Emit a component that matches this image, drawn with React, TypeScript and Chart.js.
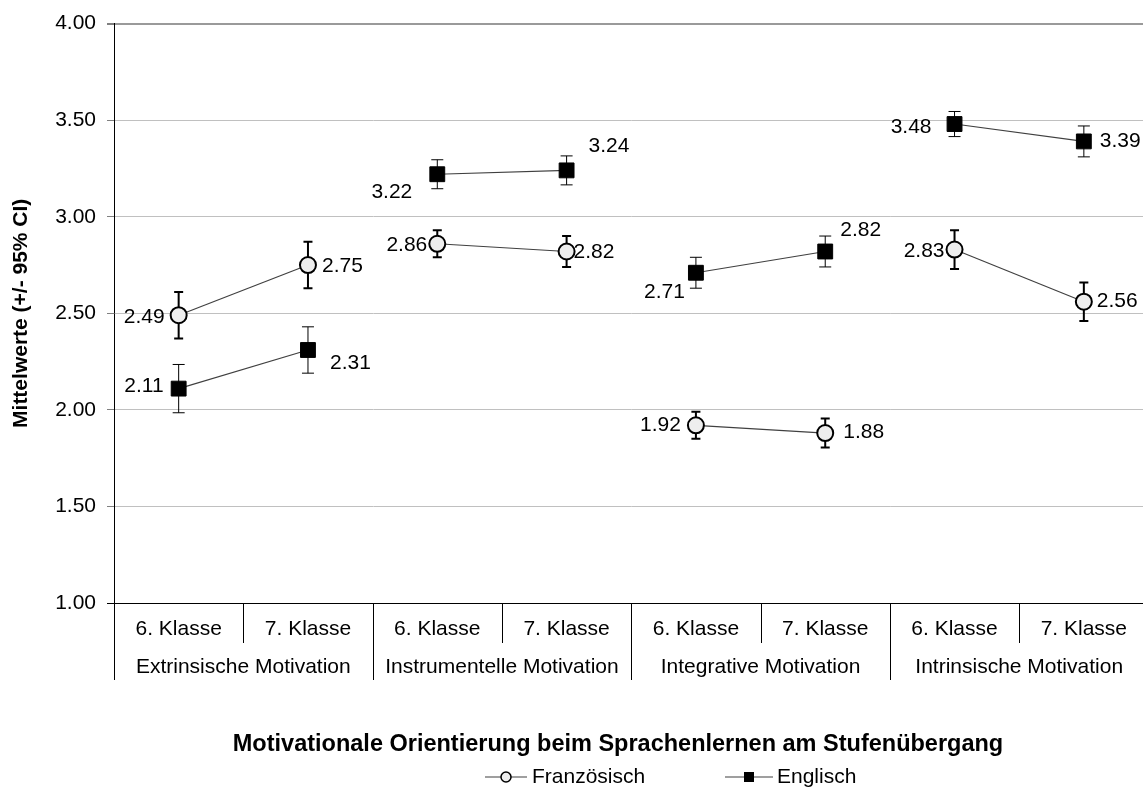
import React, { useEffect, useRef } from "react";
import { Chart, registerables } from "chart.js";

Chart.register(...registerables);

// ---------- data ----------
const classLabels = [
  "6. Klasse", "7. Klasse",
  "6. Klasse", "7. Klasse",
  "6. Klasse", "7. Klasse",
  "6. Klasse", "7. Klasse",
];
const groupLabels = [
  "Extrinsische Motivation",
  "Instrumentelle Motivation",
  "Integrative Motivation",
  "Intrinsische Motivation",
];
const franzoesisch = [2.49, 2.75, 2.86, 2.82, 1.92, 1.88, 2.83, 2.56];
const englisch = [2.11, 2.31, 3.22, 3.24, 2.71, 2.82, 3.48, 3.39];
// half-width of the 95% confidence interval
const franzoesischCI = [0.12, 0.12, 0.07, 0.08, 0.07, 0.075, 0.1, 0.1];
const englischCI = [0.125, 0.12, 0.075, 0.075, 0.08, 0.08, 0.065, 0.08];
const yMin = 1;
const yMax = 4;
const yStep = 0.5;

const seriesNames = ["Französisch", "Englisch"];
const yTitle = "Mittelwerte (+/- 95% CI)";
const xTitle = "Motivationale Orientierung beim Sprachenlernen am Stufenübergang";

// ---------- label placement (style, not data) ----------
const LABEL_PLACEMENT: Record<string, { dx: number; dy: number }[]> = {
  fr: [
    { dx: -14, dy: 2 }, { dx: 14, dy: 1 },
    { dx: -10, dy: 1 }, { dx: 7, dy: 1 },
    { dx: -15, dy: 0 }, { dx: 18, dy: -1 },
    { dx: -10, dy: 2 }, { dx: 13, dy: -1 },
  ],
  en: [
    { dx: -15, dy: -2 }, { dx: 22, dy: 13 },
    { dx: -25, dy: 18 }, { dx: 22, dy: -24 },
    { dx: -11, dy: 19 }, { dx: 15, dy: -21 },
    { dx: -23, dy: 3 }, { dx: 16, dy: 0 },
  ],
};

const FONT = "'Liberation Sans', Arial, sans-serif";
const FS = 21;
const FS_TITLE = 23.5;

const errorBarPlugin = {
  id: "errorBars",
  beforeDatasetsDraw(chart: any) {
    const { ctx } = chart;
    const y = chart.scales.y;
    const x = chart.scales.x;
    const sets = [
      { vals: franzoesisch, ci: franzoesischCI, lw: 2, cap: 9 },
      { vals: englisch, ci: englischCI, lw: 1, cap: 12 },
    ];
    ctx.save();
    ctx.strokeStyle = "#000";
    sets.forEach((s) => {
      ctx.lineWidth = s.lw;
      s.vals.forEach((v, i) => {
        const px = x.getPixelForValue(i);
        const top = y.getPixelForValue(v + s.ci[i]);
        const bot = y.getPixelForValue(v - s.ci[i]);
        ctx.beginPath();
        ctx.moveTo(px, top);
        ctx.lineTo(px, bot);
        ctx.moveTo(px - s.cap / 2, top);
        ctx.lineTo(px + s.cap / 2, top);
        ctx.moveTo(px - s.cap / 2, bot);
        ctx.lineTo(px + s.cap / 2, bot);
        ctx.stroke();
      });
    });
    ctx.restore();
  },
};

const decorPlugin = {
  id: "decor",
  afterDraw(chart: any) {
    const { ctx, chartArea } = chart;
    const x = chart.scales.x;
    const y = chart.scales.y;
    ctx.save();
    // data labels
    ctx.font = `${FS}px ${FONT}`;
    ctx.fillStyle = "#000";
    ctx.textBaseline = "middle";
    const lab = (vals: number[], place: { dx: number; dy: number }[]) => {
      vals.forEach((v, i) => {
        const px = x.getPixelForValue(i);
        const py = y.getPixelForValue(v);
        const p = place[i];
        ctx.textAlign = p.dx < 0 ? "right" : "left";
        ctx.fillText(v.toFixed(2), px + p.dx, py + p.dy);
      });
    };
    lab(franzoesisch, LABEL_PLACEMENT.fr);
    lab(englisch, LABEL_PLACEMENT.en);

    // category axis (two levels)
    const bottom = chartArea.bottom;
    const n = classLabels.length;
    const bounds: number[] = [chartArea.left];
    for (let i = 1; i < n; i++) {
      bounds.push((x.getPixelForValue(i - 1) + x.getPixelForValue(i)) / 2);
    }
    bounds.push(chartArea.right);
    ctx.strokeStyle = "#000";
    ctx.lineWidth = 1;
    bounds.forEach((b, i) => {
      const bx = Math.round(b) + 0.5;
      ctx.beginPath();
      ctx.moveTo(bx, bottom);
      ctx.lineTo(bx, i % 2 === 0 ? bottom + 77 : bottom + 40);
      ctx.stroke();
    });
    ctx.textAlign = "center";
    classLabels.forEach((l, i) => {
      ctx.fillText(l, x.getPixelForValue(i), bottom + 26);
    });
    groupLabels.forEach((g, gi) => {
      const cx = (x.getPixelForValue(gi * 2) + x.getPixelForValue(gi * 2 + 1)) / 2;
      ctx.fillText(g, cx, bottom + 64);
    });

    // x title
    ctx.font = `bold ${FS_TITLE}px ${FONT}`;
    ctx.fillText(xTitle, 618, 745);

    // legend
    ctx.font = `${FS}px ${FONT}`;
    ctx.textAlign = "left";
    const ly = 777;
    ctx.strokeStyle = "#404040";
    ctx.lineWidth = 1.2;
    ctx.beginPath();
    ctx.moveTo(485, ly);
    ctx.lineTo(527, ly);
    ctx.stroke();
    ctx.beginPath();
    ctx.arc(506, ly, 5, 0, Math.PI * 2);
    ctx.fillStyle = "#eeeeee";
    ctx.fill();
    ctx.strokeStyle = "#000";
    ctx.lineWidth = 1.5;
    ctx.stroke();
    ctx.fillStyle = "#000";
    ctx.fillText(seriesNames[0], 532, ly);

    ctx.strokeStyle = "#404040";
    ctx.lineWidth = 1.2;
    ctx.beginPath();
    ctx.moveTo(725, ly);
    ctx.lineTo(773, ly);
    ctx.stroke();
    ctx.fillStyle = "#000";
    ctx.fillRect(744, ly - 5, 10, 10);
    ctx.fillText(seriesNames[1], 777, ly);
    ctx.restore();
  },
};

const segColor = (c: any) => (c.p0DataIndex % 2 === 1 ? "rgba(0,0,0,0)" : "#404040");

export default function App() {
  const ref = useRef<HTMLCanvasElement | null>(null);
  useEffect(() => {
    if (!ref.current) return;
    Chart.defaults.font.family = FONT;
    Chart.defaults.font.size = FS;
    Chart.defaults.color = "#000";
    const chart = new Chart(ref.current, {
      type: "line",
      data: {
        labels: classLabels,
        datasets: [
          {
            label: seriesNames[0],
            data: franzoesisch,
            borderColor: "#404040",
            borderWidth: 1.2,
            segment: { borderColor: segColor },
            pointStyle: "circle",
            pointRadius: 8,
            pointBorderWidth: 2,
            pointBorderColor: "#000",
            pointBackgroundColor: "#eeeeee",
          },
          {
            label: seriesNames[1],
            data: englisch,
            borderColor: "#404040",
            borderWidth: 1.2,
            segment: { borderColor: segColor },
            pointStyle: "rect",
            pointRadius: 10.5,
            pointBorderWidth: 1,
            pointBorderColor: "#000",
            pointBackgroundColor: "#000",
          },
        ],
      },
      options: {
        animation: false,
        responsive: false,
        layout: { padding: { left: 0, top: 22, right: 11, bottom: 187 } },
        plugins: { legend: { display: false }, tooltip: { enabled: false } },
        scales: {
          x: { type: "category", display: false, offset: true },
          y: {
            min: yMin,
            max: yMax,
            afterFit: (s: any) => {
              s.width = 114;
            },
            ticks: {
              stepSize: yStep,
              padding: 11,
              color: "#000",
              font: { size: FS, family: FONT },
              callback: (v: any) => Number(v).toFixed(2),
            },
            grid: {
              color: (c: any) =>
                c.tick && c.tick.value === yMin ? "#000" : c.tick && c.tick.value === yMax ? "#9a9a9a" : "#c0c0c0",
              lineWidth: (c: any) => (c.tick && c.tick.value === yMax ? 2 : 1),
              tickColor: (c: any) => (c.tick && c.tick.value === yMin ? "#000" : "#808080"),
              tickLength: 7,
            },
            border: { display: true, color: "#000", width: 1 },
            title: {
              display: true,
              text: yTitle,
              color: "#000",
              font: { size: FS, weight: "bold", family: FONT },
              padding: { top: 9, bottom: 0 },
            },
          },
        },
      },
      plugins: [errorBarPlugin, decorPlugin],
    } as any);
    return () => chart.destroy();
  }, []);
  return (
    <div
      style={{
        position: "fixed",
        left: 0,
        top: 0,
        width: 1143,
        height: 790,
        overflow: "hidden",
        background: "#fff",
      }}
    >
      <canvas ref={ref} width={1160} height={790} style={{ display: "block" }} />
    </div>
  );
}
